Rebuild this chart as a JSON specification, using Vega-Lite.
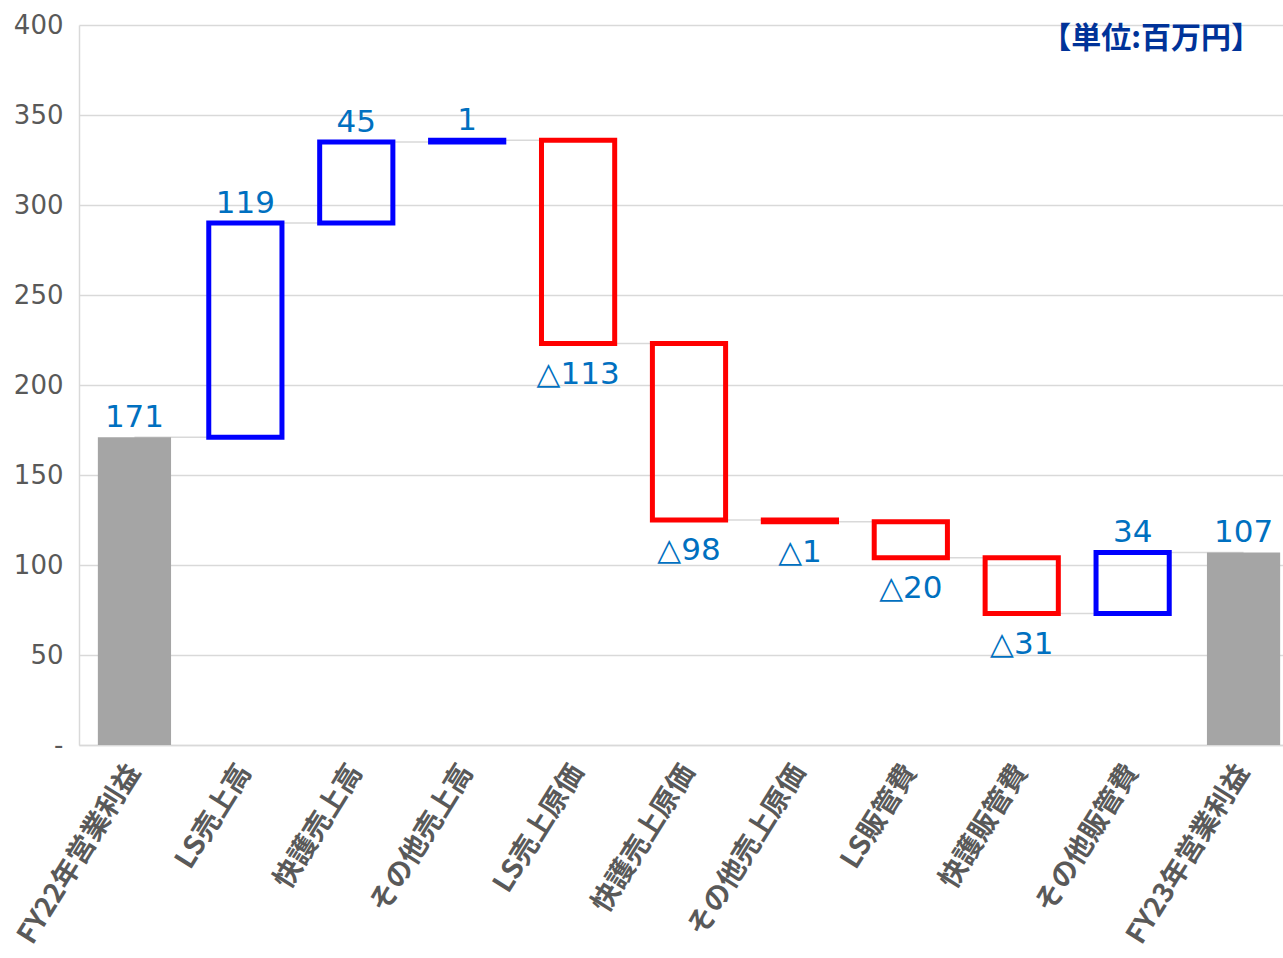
{
  "$schema": "https://vega.github.io/schema/vega-lite/v6.json",
  "width": 1204,
  "height": 720,
  "autosize": {"type": "none"},
  "padding": {"left": 79, "top": 25, "right": 0, "bottom": 213},
  "background": "white",
  "title": {
    "text": "【単位:百万円】",
    "orient": "top",
    "anchor": "end",
    "frame": "group",
    "offset": -42,
    "dx": -22,
    "font": "Noto Sans CJK JP",
    "fontSize": 30,
    "fontWeight": "bold",
    "color": "#003399"
  },
  "config": {
    "view": {"stroke": null},
    "axis": {"labelColor": "#595959", "domainColor": "#d9d9d9", "gridColor": "#d9d9d9", "ticks": false, "title": null}
  },
  "datasets": {
    "bars": [
      {"cat": "FY22年営業利益", "type": "total", "start": 0, "end": 171, "label": "171"},
      {"cat": "LS売上高", "type": "up", "start": 171, "end": 290, "label": "119"},
      {"cat": "快護売上高", "type": "up", "start": 290, "end": 335, "label": "45"},
      {"cat": "その他売上高", "type": "up", "start": 335, "end": 336, "label": "1"},
      {"cat": "LS売上原価", "type": "down", "start": 336, "end": 223, "label": "△113"},
      {"cat": "快護売上原価", "type": "down", "start": 223, "end": 125, "label": "△98"},
      {"cat": "その他売上原価", "type": "down", "start": 125, "end": 124, "label": "△1"},
      {"cat": "LS販管費", "type": "down", "start": 124, "end": 104, "label": "△20"},
      {"cat": "快護販管費", "type": "down", "start": 104, "end": 73, "label": "△31"},
      {"cat": "その他販管費", "type": "up", "start": 73, "end": 107, "label": "34"},
      {"cat": "FY23年営業利益", "type": "total", "start": 0, "end": 107, "label": "107"}
    ],
    "links": [
      {"from": "FY22年営業利益", "to": "LS売上高", "level": 171},
      {"from": "LS売上高", "to": "快護売上高", "level": 290},
      {"from": "快護売上高", "to": "その他売上高", "level": 335},
      {"from": "その他売上高", "to": "LS売上原価", "level": 336},
      {"from": "LS売上原価", "to": "快護売上原価", "level": 223},
      {"from": "快護売上原価", "to": "その他売上原価", "level": 125},
      {"from": "その他売上原価", "to": "LS販管費", "level": 124},
      {"from": "LS販管費", "to": "快護販管費", "level": 104},
      {"from": "快護販管費", "to": "その他販管費", "level": 73},
      {"from": "その他販管費", "to": "FY23年営業利益", "level": 107}
    ]
  },
  "layer": [
    {
      "data": {"name": "links"},
      "mark": {"type": "rule", "color": "#d9d9d9", "strokeWidth": 1.5},
      "encoding": {
        "x": {
          "field": "from", "type": "nominal",
          "scale": {"domain": ["FY22年営業利益", "LS売上高", "快護売上高", "その他売上高", "LS売上原価", "快護売上原価", "その他売上原価", "LS販管費", "快護販管費", "その他販管費", "FY23年営業利益"], "range": [0, 1220], "paddingInner": 0.34, "paddingOuter": 0.17},
          "axis": {"labelAngle": -58, "labelAlign": "right", "labelBaseline": "middle", "labelPadding": 22, "labelFont": "Noto Sans CJK JP", "labelFontWeight": "bold", "labelFontSize": 28, "labelLimit": 400, "domainWidth": 1.5}
        },
        "x2": {"field": "to"},
        "y": {
          "field": "level", "type": "quantitative",
          "scale": {"domain": [0, 400], "nice": false},
          "axis": {"values": [0, 50, 100, 150, 200, 250, 300, 350, 400], "labelExpr": "datum.value == 0 ? '-' : datum.label", "labelFont": "DejaVu Sans", "labelFontSize": 26, "labelPadding": 16, "grid": true, "gridWidth": 1.5, "domainWidth": 1.5}
        }
      }
    },
    {
      "data": {"name": "bars"},
      "transform": [{"filter": "datum.type == 'total'"}],
      "mark": {"type": "bar", "color": "#a5a5a5"},
      "encoding": {
        "x": {"field": "cat", "type": "nominal"},
        "y": {"field": "start", "type": "quantitative"},
        "y2": {"field": "end"}
      }
    },
    {
      "data": {"name": "bars"},
      "transform": [{"filter": "datum.type != 'total'"}],
      "mark": {"type": "bar", "fillOpacity": 0, "strokeWidth": 5},
      "encoding": {
        "x": {"field": "cat", "type": "nominal"},
        "y": {"field": "start", "type": "quantitative"},
        "y2": {"field": "end"},
        "stroke": {"field": "type", "type": "nominal", "scale": {"domain": ["up", "down"], "range": ["#0000ff", "#ff0000"]}, "legend": null}
      }
    },
    {
      "data": {"name": "bars"},
      "transform": [{"filter": "datum.type != 'down'"}],
      "mark": {"type": "text", "baseline": "alphabetic", "dy": -10, "font": "DejaVu Sans", "fontSize": 31, "color": "#0070c0"},
      "encoding": {
        "x": {"field": "cat", "type": "nominal"},
        "y": {"field": "end", "type": "quantitative"},
        "text": {"field": "label"}
      }
    },
    {
      "data": {"name": "bars"},
      "transform": [{"filter": "datum.type == 'down'"}],
      "mark": {"type": "text", "baseline": "alphabetic", "dy": 40, "font": "DejaVu Sans", "fontSize": 31, "color": "#0070c0"},
      "encoding": {
        "x": {"field": "cat", "type": "nominal"},
        "y": {"field": "end", "type": "quantitative"},
        "text": {"field": "label"}
      }
    }
  ]
}
